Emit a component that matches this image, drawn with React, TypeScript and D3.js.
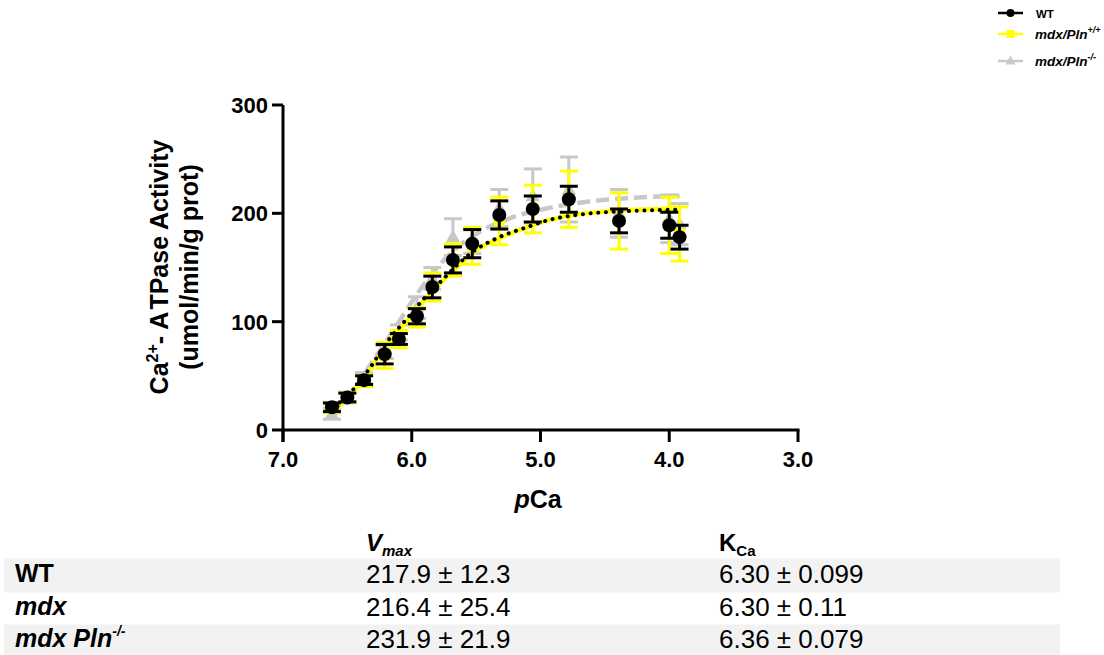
import React from "react";
import * as d3 from "d3";

// ---------- data ----------
const pCa = [6.62, 6.5, 6.37, 6.21, 6.1, 5.96, 5.84, 5.68, 5.53, 5.32, 5.06, 4.78, 4.39, 4.0, 3.92];

const wtMean = [21, 30, 46, 70, 84, 105, 132, 157, 172, 198.5, 204, 213, 193, 189, 178];
const wtSem = [4, 4, 4, 9, 5, 7, 10, 12, 13, 13, 12, 12, 11, 12, 11];

const mdxMean = [20, 30, 45, 69, 84, 104, 132, 157, 170, 193, 204, 213, 193, 189, 181];
const mdxSem = [4, 4, 5, 12, 8, 9, 13, 15, 17, 22, 22, 26, 26, 26, 25];

const koMean = [15, 30, 48, 72, 90, 113, 140, 178, 175, 205, 216, 222, 200, 195, 190];
const koSem = [5, 5, 5, 6, 7, 10, 10, 17, 12, 17, 25, 30, 22, 22, 19];

// fitted curves
const wtFitX = [6.62, 6.45, 6.32, 6.2, 6.05, 5.9, 5.75, 5.65, 5.52, 5.32, 5.11, 4.93, 4.75, 4.56, 4.33, 4.07, 3.92];
const wtFitY = [17, 38, 58, 80, 101, 122, 140, 152, 165, 178, 187, 194, 198, 200.5, 202, 203, 203.5];
const mdxFitX = [6.62, 6.45, 6.32, 6.2, 6.05, 5.9, 5.75, 5.65, 5.52, 5.32, 5.11, 4.93, 4.75, 4.56, 4.33, 4.07, 3.92];
const mdxFitY = [16, 36, 56, 78, 99, 120, 139, 150, 164, 177, 187, 194, 198.5, 201, 203, 204, 204.5];
const koFitX = [6.62, 6.45, 6.3, 6.13, 5.99, 5.85, 5.7, 5.47, 5.2, 4.93, 4.62, 4.33, 4.07, 3.92];
const koFitY = [11, 37, 64, 94, 120, 143, 163, 183, 197, 205, 211, 214, 215.5, 216];

const xTicks = [7.0, 6.0, 5.0, 4.0, 3.0];
const yTicks = [0, 100, 200, 300];

const tableGroups = ["WT", "mdx", "mdx Pln"];
const tableVmax = ["217.9 \u00b1 12.3", "216.4 \u00b1 25.4", "231.9 \u00b1 21.9"];
const tableKca = ["6.30 \u00b1 0.099", "6.30 \u00b1 0.11", "6.36 \u00b1 0.079"];

const FONT = "'Liberation Sans', Arial, Helvetica, sans-serif";
const BLACK = "#000000";
const YELLOW = "#ffff00";
const GRAY = "#c8c8c8";

export default function App() {
  const x = d3.scaleLinear().domain([7, 3]).range([283, 798]);
  const y = d3.scaleLinear().domain([0, 300]).range([430, 105]);

  const line = d3
    .line<[number, number]>()
    .x((d) => x(d[0]))
    .y((d) => y(d[1]))
    .curve(d3.curveMonotoneX);

  const zip = (a: number[], b: number[]) => a.map((v, i) => [v, b[i]] as [number, number]);

  const errorBars = (means: number[], sems: number[], color: string, key: string) =>
    pCa.map((p, i) => {
      const cx = x(p);
      const top = y(means[i] + sems[i]);
      const bot = y(means[i] - sems[i]);
      return (
        <g key={key + i} stroke={color} strokeWidth={3}>
          <line x1={cx} x2={cx} y1={top} y2={bot} />
          <line x1={cx - 9} x2={cx + 9} y1={top} y2={top} />
          <line x1={cx - 9} x2={cx + 9} y1={bot} y2={bot} />
        </g>
      );
    });

  const triPath = (cx: number, cy: number, s: number) =>
    `M${cx},${cy - s * 0.6}L${cx + s * 0.55},${cy + s * 0.4}L${cx - s * 0.55},${cy + s * 0.4}Z`;

  return (
    <svg
      width={1104}
      height={655}
      style={{ position: "absolute", left: 0, top: 0, background: "#ffffff" }}
      fontFamily={FONT}
    >
      <rect x={0} y={0} width={1104} height={655} fill="#ffffff" />

      {/* gray series (mdx/Pln-/-) */}
      <g>
        {errorBars(koMean, koSem, GRAY, "ko")}
        <path
          d={line(zip(koFitX, koFitY)) || ""}
          fill="none"
          stroke={GRAY}
          strokeWidth={4.5}
          strokeDasharray="13 6"
        />
        {pCa.map((p, i) => (
          <path key={"kt" + i} d={triPath(x(p), y(koMean[i]), 13)} fill={GRAY} />
        ))}
      </g>

      {/* yellow series (mdx/Pln+/+) */}
      <g>
        {errorBars(mdxMean, mdxSem, YELLOW, "mdx")}
        <path d={line(zip(mdxFitX, mdxFitY)) || ""} fill="none" stroke={YELLOW} strokeWidth={4.5} />
        {pCa.map((p, i) => (
          <rect key={"ms" + i} x={x(p) - 5.5} y={y(mdxMean[i]) - 5.5} width={11} height={11} fill={YELLOW} />
        ))}
      </g>

      {/* black series (WT) */}
      <g>
        {errorBars(wtMean, wtSem, BLACK, "wt")}
        <path
          d={line(zip(wtFitX, wtFitY)) || ""}
          fill="none"
          stroke={BLACK}
          strokeWidth={4}
          strokeLinecap="round"
          strokeDasharray="0.1 7.6"
        />
        {pCa.map((p, i) => (
          <circle key={"wc" + i} cx={x(p)} cy={y(wtMean[i])} r={7} fill={BLACK} />
        ))}
      </g>

      {/* axes */}
      <g stroke="#000" strokeWidth={3}>
        <line x1={x(7)} x2={x(7)} y1={y(300)} y2={y(0) + 12} />
        <line x1={x(7) - 1.5} x2={x(3) + 1.5} y1={y(0)} y2={y(0)} />
        {yTicks.map((t) => (
          <line key={"yt" + t} x1={x(7) - 11} x2={x(7)} y1={y(t)} y2={y(t)} />
        ))}
        {xTicks.map((t) => (
          <line key={"xt" + t} x1={x(t)} x2={x(t)} y1={y(0)} y2={y(0) + 12} />
        ))}
      </g>
      <g fontWeight="bold" fontSize={22} fill="#000">
        {yTicks.map((t) => (
          <text key={"yl" + t} x={x(7) - 15} y={y(t)} dy="0.36em" textAnchor="end">
            {t}
          </text>
        ))}
        {xTicks.map((t) => (
          <text key={"xl" + t} x={x(t)} y={467} textAnchor="middle">
            {t.toFixed(1)}
          </text>
        ))}
      </g>

      {/* axis titles */}
      <text x={538} y={508} textAnchor="middle" fontWeight="bold" fontSize={25}>
        <tspan fontStyle="italic">p</tspan>Ca
      </text>
      <g fontWeight="bold" fontSize={25}>
        <text transform="translate(168,267) rotate(-90)" textAnchor="middle">
          Ca
          <tspan fontSize={16} dy={-10}>2+</tspan>
          <tspan dy={10}>- A</tspan>
          <tspan dx={4}>TPase Activity</tspan>
        </text>
        <text transform="translate(198,267) rotate(-90)" textAnchor="middle">
          (umol/min/g prot)
        </text>
      </g>

      {/* legend */}
      <g>
        <line x1={998} x2={1023} y1={13} y2={13} stroke={BLACK} strokeWidth={2.5} />
        <circle cx={1010.5} cy={13} r={4} fill={BLACK} />
        <text x={1036} y={18} fontSize={11.5} fontWeight="bold">WT</text>

        <line x1={998} x2={1023} y1={34} y2={34} stroke={YELLOW} strokeWidth={2.5} />
        <rect x={1006.5} y={30} width={8} height={8} fill={YELLOW} />
        <text x={1035} y={39} fontSize={13.5} fontWeight="bold" fontStyle="italic">
          mdx/Pln<tspan fontSize={9} dy={-6}>+/+</tspan>
        </text>

        <line x1={998} x2={1023} y1={61} y2={61} stroke={GRAY} strokeWidth={2.5} />
        <path d={triPath(1010.5, 61, 9)} fill={GRAY} />
        <text x={1035} y={66} fontSize={13.5} fontWeight="bold" fontStyle="italic">
          mdx/Pln<tspan fontSize={9} dy={-6}>-/-</tspan>
        </text>
      </g>

      {/* table */}
      <g>
        <rect x={4} y={558.5} width={1056} height={34} fill="#f2f2f2" />
        <rect x={4} y={624.5} width={1056} height={31} fill="#f2f2f2" />

        <text x={366} y={551} fontSize={24} fontWeight="bold" fontStyle="italic">
          V<tspan fontSize={15} dy={5}>max</tspan>
        </text>
        <text x={719} y={551} fontSize={24} fontWeight="bold">
          K<tspan fontSize={15} dy={5}>Ca</tspan>
        </text>

        {tableGroups.map((g, i) => {
          const base = [582, 615, 647][i];
          return (
            <g key={"row" + i}>
              <text
                x={15}
                y={base}
                fontSize={25}
                fontWeight="bold"
                fontStyle={i === 0 ? "normal" : "italic"}
              >
                {g}
                {i === 2 ? (
                  <tspan fontSize={14} dy={-11}>
                    -/-
                  </tspan>
                ) : null}
              </text>
              <text x={366} y={base + 1} fontSize={26}>
                {tableVmax[i]}
              </text>
              <text x={719} y={base + 1} fontSize={26}>
                {tableKca[i]}
              </text>
            </g>
          );
        })}
      </g>
    </svg>
  );
}
